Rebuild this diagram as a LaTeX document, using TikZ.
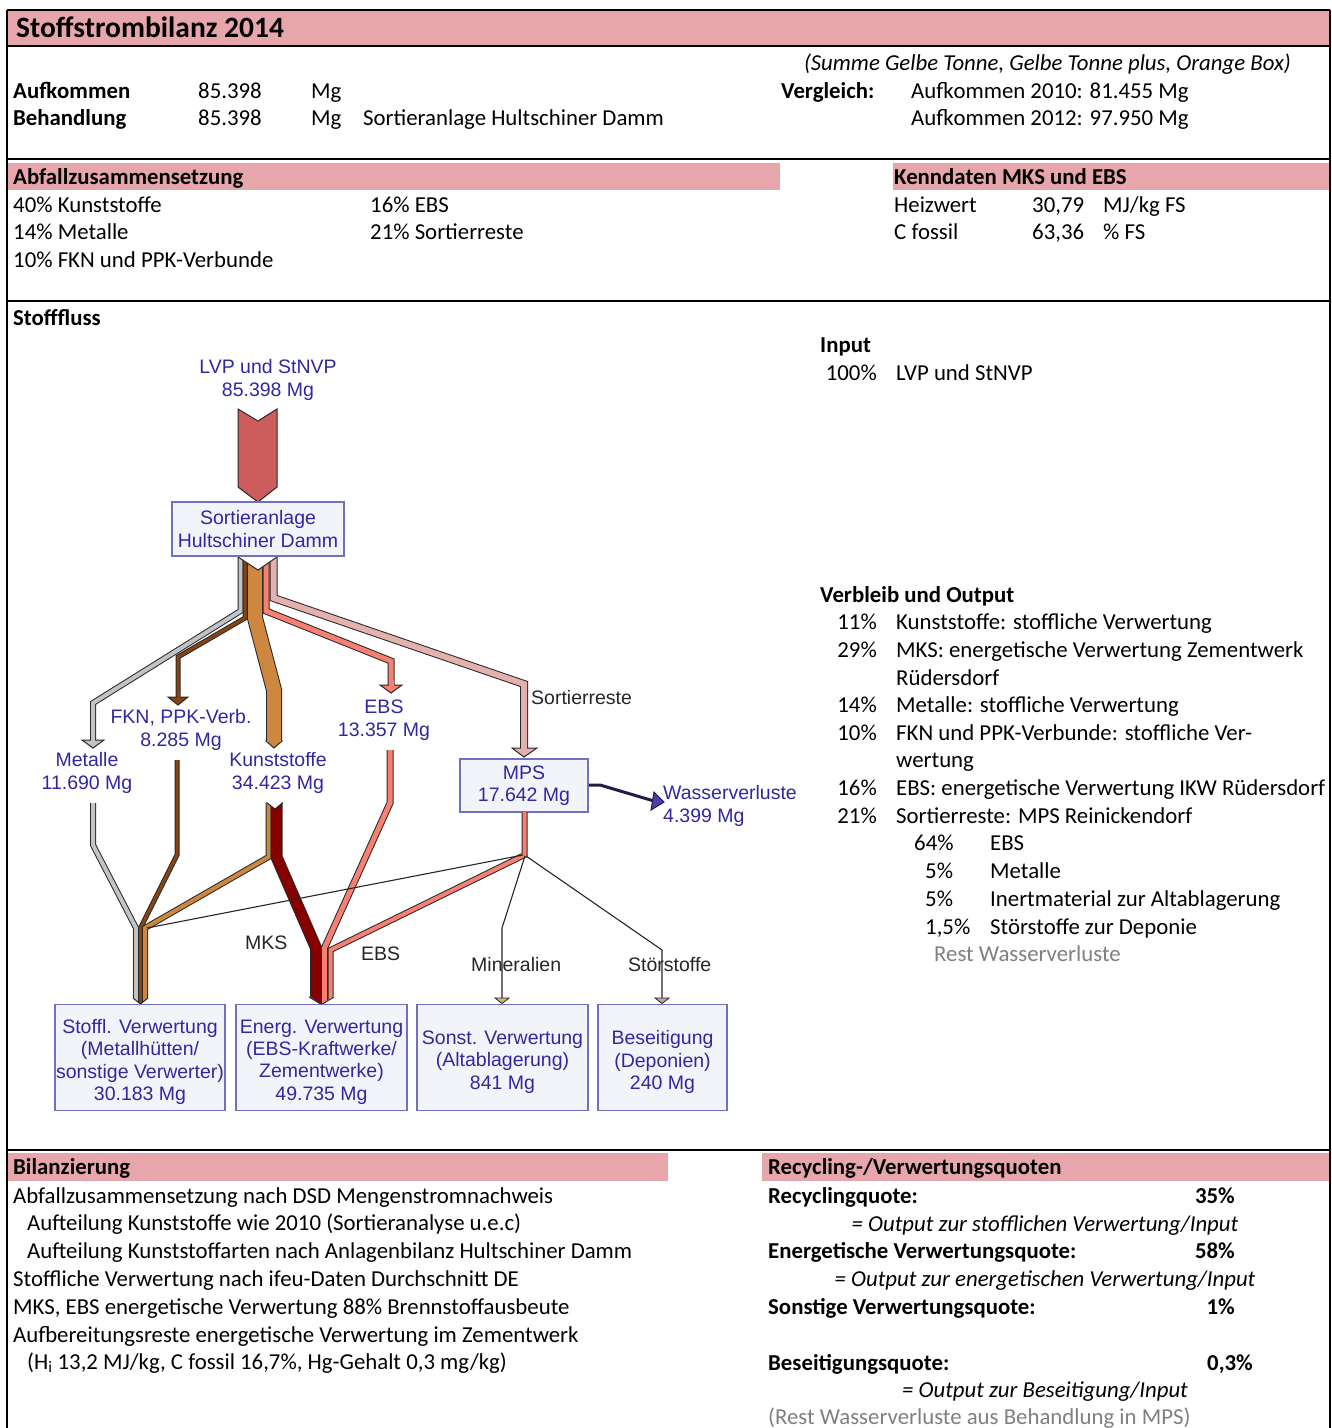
\documentclass[tikz,border=0pt]{standalone}
\usepackage{fontspec}
\setmainfont{Carlito}
\newfontfamily\arialf{Liberation Sans}
\definecolor{pinkband}{RGB}{230,166,172}
\definecolor{arrowred}{RGB}{205,92,92}
\definecolor{boxfill}{RGB}{243,243,250}
\definecolor{boxdraw}{RGB}{112,112,192}
\definecolor{lblblue}{RGB}{48,40,160}
\definecolor{outl}{RGB}{40,40,40}
\definecolor{cgray}{RGB}{195,195,195}
\definecolor{cbrown}{RGB}{135,68,18}
\definecolor{corange}{RGB}{205,135,62}
\definecolor{csalmon}{RGB}{248,128,114}
\definecolor{cpink}{RGB}{228,178,174}
\definecolor{cmks}{RGB}{135,0,0}
\definecolor{navy}{RGB}{30,30,70}
\definecolor{arrowblue}{RGB}{80,60,170}
\definecolor{tanc}{RGB}{215,180,130}
\definecolor{rosec}{RGB}{200,160,165}
\definecolor{restgray}{RGB}{128,128,128}
\newcommand{\flowstrip}[4]{%
  \draw[line width=#3, draw=outl, line join=miter, miter limit=30] #4;
  \draw[line width=#2, draw=#1, line join=miter, miter limit=30] #4;}
\newcommand{\bodyfont}{\fontsize{22.8}{27}\selectfont}
\begin{document}
\begin{tikzpicture}[x=1pt,y=-1pt,
  txt/.style={anchor=base west, inner sep=0pt, font=\bodyfont},
  txtb/.style={anchor=base west, inner sep=0pt, font=\bodyfont\bfseries},
  txtbr/.style={anchor=base east, inner sep=0pt, font=\bodyfont\bfseries},
  txti/.style={anchor=base, inner sep=0pt, font=\bodyfont\itshape},
  txtr/.style={anchor=base east, inner sep=0pt, font=\bodyfont},
  lbl/.style={font=\arialf\fontsize{19.5}{23}\selectfont, text=lblblue, align=center, inner sep=0pt},
  dlbl/.style={font=\arialf\fontsize{19.5}{23}\selectfont, text=black!85, inner sep=0pt, anchor=base west},
  fbox/.style={draw=boxdraw, fill=boxfill, line width=1.6pt, font=\arialf\fontsize{19.5}{22.5}\selectfont, text=lblblue, align=center, inner sep=0pt},
  btxt/.style={font=\arialf\fontsize{19.5}{22.3}\selectfont, text=lblblue, align=center, inner sep=0pt},
  band/.style={fill=pinkband, draw=none},
  rule/.style={line width=1.8pt, draw=black},
  thin/.style={line width=1.1pt, draw=black!85}
]
\useasboundingbox (0,0) rectangle (1332,1428);
\fill[white] (0,0) rectangle (1332,1428);

% ---------- bands ----------
\fill[band] (8,11) rectangle (1329,45);
\fill[band] (8,163) rectangle (780,190);
\fill[band] (893,163) rectangle (1329,190);
\fill[band] (8,1153) rectangle (668,1181);
\fill[band] (762,1153) rectangle (1329,1181);

% ---------- frame ----------
\draw[rule] (7,10) -- (1330,10);
\draw[rule] (7,46) -- (1330,46);
\draw[rule] (7,159) -- (1330,159);
\draw[rule] (7,301) -- (1330,301);
\draw[rule] (7,1150) -- (1330,1150);
\draw[rule] (7,10) -- (7,1428);
\draw[rule] (1330,10) -- (1330,1428);

% ---------- header texts ----------
\node[anchor=base west, inner sep=0pt, font=\fontsize{29.5}{33}\selectfont\bfseries] (title) at (16,37.5) {Stoffstrombilanz 2014};
\node[anchor=base east, inner sep=0pt, font=\bodyfont\itshape] (summe) at (1291,70) {(Summe Gelbe Tonne, Gelbe Tonne plus, Orange Box)};
\node[txtb] (aufk) at (13,98) {Aufkommen};
\node[txt] (aufkv) at (198,98) {85.398};
\node[txt] (aufku) at (311,98) {Mg};
\node[txtb] (vergl) at (781,98) {Vergleich:};
\node[txt] (v2010) at (911,98) {Aufkommen 2010: 81.455 Mg};
\node[txtb] (behd) at (13,125) {Behandlung};
\node[txt] (behdv) at (198,125) {85.398};
\node[txt] (behdu) at (311,125) {Mg};
\node[txt] (behdn) at (363,125) {Sortieranlage Hultschiner Damm};
\node[txt] (v2012) at (911,125) {Aufkommen 2012: 97.950 Mg};

\node[txtb] (abfz) at (13,184) {Abfallzusammensetzung};
\node[txtb] (kennd) at (894,184) {Kenndaten MKS und EBS};
\node[txt] (a1) at (13,212) {40\% Kunststoffe};
\node[txt] (a2) at (370,212) {16\% EBS};
\node[txt] (a3) at (13,239) {14\% Metalle};
\node[txt] (a4) at (370,239) {21\% Sortierreste};
\node[txt] (a5) at (13,267) {10\% FKN und PPK-Verbunde};
\node[txt] (k1) at (894,212) {Heizwert};
\node[txt] (k2) at (1032,212) {30,79};
\node[txt] (k3) at (1103,212) {MJ/kg FS};
\node[txt] (k4) at (894,239) {C fossil};
\node[txt] (k5) at (1032,239) {63,36};
\node[txt] (k6) at (1103,239) {\% FS};

\node[txtb] (stfl) at (13,325) {Stofffluss};

% ---------- right column ----------
\node[txtb] (inp) at (820,352) {Input};
\node[txtr] (i1p) at (877,380) {100\%};
\node[txt] (i1t) at (896,380) {LVP und StNVP};
\node[txtb] (verb) at (820,602) {Verbleib und Output};
\node[txtr] (o1p) at (877,629) {11\%};
\node[txt] (o1t) at (896,629) {Kunststoffe: stoffliche Verwertung};
\node[txtr] (o2p) at (877,657) {29\%};
\node[txt] (o2t) at (896,657) {MKS: energetische Verwertung Zementwerk};
\node[txt] (o2u) at (896,685) {Rüdersdorf};
\node[txtr] (o3p) at (877,712) {14\%};
\node[txt] (o3t) at (896,712) {Metalle: stoffliche Verwertung};
\node[txtr] (o4p) at (877,740) {10\%};
\node[txt] (o4t) at (896,740) {FKN und PPK-Verbunde: stoffliche Ver-};
\node[txt] (o4u) at (896,767) {wertung};
\node[txtr] (o5p) at (877,795) {16\%};
\node[txt] (o5t) at (896,795) {EBS: energetische Verwertung IKW Rüdersdorf};
\node[txtr] (o6p) at (877,823) {21\%};
\node[txt] (o6t) at (896,823) {Sortierreste: MPS Reinickendorf};
\node[txt] (s1p) at (914,850) {64\%};
\node[txt] (s1t) at (990,850) {EBS};
\node[txt] (s2p) at (925,878) {5\%};
\node[txt] (s2t) at (990,878) {Metalle};
\node[txt] (s3p) at (925,906) {5\%};
\node[txt] (s3t) at (990,906) {Inertmaterial zur Altablagerung};
\node[txt] (s4p) at (925,934) {1,5\%};
\node[txt] (s4t) at (990,934) {Störstoffe zur Deponie};
\node[txt, text=restgray] (rest) at (934,961) {Rest Wasserverluste};

% ---------- bottom texts ----------
\node[txtb] (bil) at (13,1174) {Bilanzierung};
\node[txtb] (recq) at (768,1174) {Recycling-/Verwertungsquoten};
\node[txt] (b1) at (13,1203) {Abfallzusammensetzung nach DSD Mengenstromnachweis};
\node[txt] (b2) at (27,1230) {Aufteilung Kunststoffe wie 2010 (Sortieranalyse u.e.c)};
\node[txt] (b3) at (27,1258) {Aufteilung Kunststoffarten nach Anlagenbilanz Hultschiner Damm};
\node[txt] (b4) at (13,1286) {Stoffliche Verwertung nach ifeu-Daten Durchschnitt DE};
\node[txt] (b5) at (13,1314) {MKS, EBS energetische Verwertung 88\% Brennstoffausbeute};
\node[txt] (b6) at (13,1342) {Aufbereitungsreste energetische Verwertung im Zementwerk};
\node[txt] (b7) at (27,1369) {(H\textsubscript{i} 13,2 MJ/kg, C fossil 16,7\%, Hg-Gehalt 0,3 mg/kg)};

\node[txtb] (r1) at (768,1203) {Recyclingquote:};
\node[txtbr] (r1v) at (1235,1203) {35\%};
\node[txti] (r1f) at (1045,1231) {= Output zur stofflichen Verwertung/Input};
\node[txtb] (r2) at (768,1258) {Energetische Verwertungsquote:};
\node[txtbr] (r2v) at (1235,1258) {58\%};
\node[txti] (r2f) at (1045,1286) {= Output zur energetischen Verwertung/Input};
\node[txtb] (r3) at (768,1314) {Sonstige Verwertungsquote:};
\node[txtbr] (r3v) at (1235,1314) {1\%};
\node[txtb] (r4) at (768,1370) {Beseitigungsquote:};
\node[txtb] (r4v) at (1207,1370) {0,3\%};
\node[txti] (r4f) at (1045,1397) {= Output zur Beseitigung/Input};
\node[txt, text=restgray] (r5) at (768,1424) {(Rest Wasserverluste aus Behandlung in MPS)};

% ---------- input arrow ----------
\node[lbl] (lvp) at (268,380) {LVP und StNVP\\85.398 Mg};
\filldraw[fill=arrowred, draw=outl, line width=1pt] (238,409)--(258,421)--(277,409)--(277,487)--(258,502)--(238,487)--cycle;

% ---------- upper strips ----------
\flowstrip{cgray}{4}{6}{(240.5,556)--(240.5,611)--(93,703)--(93,740)}
\filldraw[fill=cgray, draw=outl, line width=1pt] (82,740)--(104,740)--(93,748)--cycle;
\draw[line width=4, cgray] (93,735)--(93,740.6);

\flowstrip{cbrown}{3}{5}{(245,556)--(245,618)--(178,657)--(178,697)}
\filldraw[fill=cbrown, draw=outl, line width=1pt] (168,697)--(188,697)--(178,705)--cycle;
\draw[line width=3, cbrown] (178,692)--(178,697.6);

\flowstrip{corange}{14}{16}{(255,556)--(255,618)--(274,690)--(274,741)}
\filldraw[fill=corange, draw=outl, line width=1pt] (266,741)--(282,741)--(274,748)--cycle;
\draw[line width=14, corange] (274,736)--(274,741.6);

\flowstrip{csalmon}{5}{7}{(266,556)--(266,611)--(391,661)--(391,685)}
\filldraw[fill=csalmon, draw=outl, line width=1pt] (380,685)--(402,685)--(391,693)--cycle;
\draw[line width=5, csalmon] (391,680)--(391,685.6);

\flowstrip{cpink}{6}{8}{(273.5,556)--(273.5,598)--(524,684)--(524,748)}
\filldraw[fill=cpink, draw=outl, line width=1pt] (512,748)--(537,748)--(524,757)--cycle;
\draw[line width=6, cpink] (524,743)--(524,748.6);

% notch under Sortieranlage
\fill[white] (236,556)--(258,570)--(279,556)--cycle;
\draw[outl, line width=1pt] (238,557)--(258,570)--(277,557);

% ---------- nodes (boxes) ----------
\node[fbox, minimum width=172, minimum height=54] (sort) at (258,529) {Sortieranlage\\Hultschiner Damm};
\node[fbox, minimum width=128, minimum height=53] (mps) at (524,785.5) {MPS\\17.642 Mg};

% ---------- lower strips ----------
\flowstrip{cgray}{4}{6}{(93,803)--(93,845)--(136,928)--(136,1004)}
\flowstrip{cbrown}{3}{5}{(177,760)--(177,855)--(140.5,928)--(140.5,1004)}
\flowstrip{corange}{4}{6}{(268.5,803)--(268.5,857)--(145,928)--(145,1004)}
\flowstrip{cmks}{10}{12}{(276.5,803)--(276.5,857)--(316,948)--(316,1004)}
\flowstrip{csalmon}{5}{7}{(390,750)--(390,803)--(324.5,948)--(324.5,1004)}
\flowstrip{csalmon}{4}{6}{(524.5,812)--(524.5,855)--(330.5,950)--(330.5,1004)}
% notch on Kunststoffe lower part
\fill[white] (265,801)--(275,809)--(284,801)--cycle;
\draw[outl, line width=1pt] (266.5,802.5)--(275,809)--(283,802.5);
% tips of the two bundles
\fill[white] (128,994)--(140.5,1004)--(153,994)--(153,1010)--(128,1010)--cycle;
\draw[outl, line width=1pt] (133,998)--(140.5,1004)--(148,998);
\fill[white] (305,993.5)--(321.5,1004.5)--(338,993.5)--(338,1010)--(305,1010)--cycle;
\draw[outl, line width=1pt] (309,997)--(321.5,1004.5)--(334,997);

% thin lines from MPS
\draw[thin] (523,855)--(147,928);
\draw[thin] (525,856)--(502,928)--(502,998);
\filldraw[fill=tanc, draw=outl, line width=0.8pt] (495,998)--(509,998)--(502,1003.5)--cycle;
\draw[thin] (526,856)--(662,950)--(662,998);
\filldraw[fill=rosec, draw=outl, line width=0.8pt] (655,998)--(669,998)--(662,1003.5)--cycle;

% Wasserverluste
\draw[navy, line width=3pt, line join=round] (mps.east |- 0,785)--(600,785)--(654,801);
\filldraw[fill=arrowblue, draw=navy, line width=1pt] (654,792)--(664,802)--(651,810)--cycle;

% ---------- target boxes ----------
\node[fbox, minimum width=170, minimum height=106] (stoffl) at (140,1057.5) {};
\node[btxt] (stofflt) at (140,1062) {Stoffl. Verwertung\\(Metallhütten/\\sonstige Verwerter)\\30.183 Mg};
\node[fbox, minimum width=171, minimum height=106] (energ) at (321.5,1057.5) {};
\node[btxt] (energt) at (321.5,1062) {Energ. Verwertung\\(EBS-Kraftwerke/\\Zementwerke)\\49.735 Mg};
\node[fbox, minimum width=171, minimum height=106] (sonst) at (502.5,1057.5) {};
\node[btxt] (sonstt) at (502.5,1062) {Sonst. Verwertung\\(Altablagerung)\\841 Mg};
\node[fbox, minimum width=129, minimum height=106] (besei) at (662.5,1057.5) {};
\node[btxt] (beseit) at (662.5,1062) {Beseitigung\\(Deponien)\\240 Mg};

% ---------- diagram labels ----------
\node[lbl] (lfkn) at (181,730) {FKN, PPK-Verb.\\8.285 Mg};
\node[lbl] (lmet) at (87,773) {Metalle\\11.690 Mg};
\node[lbl] (lkun) at (278,773) {Kunststoffe\\34.423 Mg};
\node[lbl] (lebs) at (384,720) {EBS\\13.357 Mg};
\node[lbl, anchor=west, align=left] (lwas) at (663,805.5) {Wasserverluste\\4.399 Mg};
\node[dlbl] (lsort) at (531,704) {Sortierreste};
\node[dlbl] (lmks) at (245,949) {MKS};
\node[dlbl] (lebs2) at (361,960) {EBS};
\node[dlbl] (lmin) at (471,971) {Mineralien};
\node[dlbl] (lstoer) at (628,971) {Störstoffe};
\end{tikzpicture}
\end{document}
